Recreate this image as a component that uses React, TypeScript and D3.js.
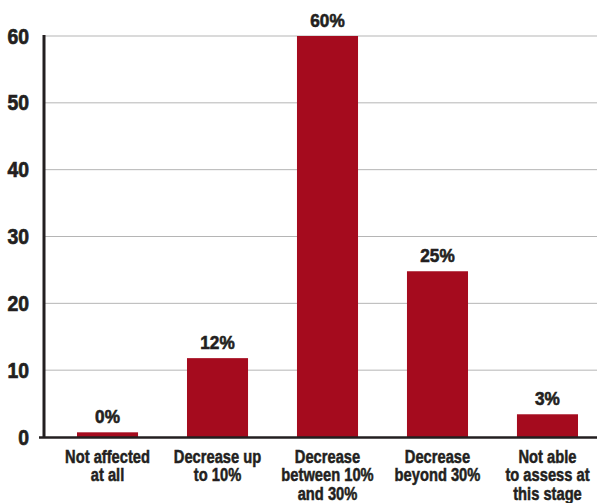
import React, { useEffect, useRef } from "react";
import * as d3 from "d3";

const categories = [
  ["Not affected", "at all"],
  ["Decrease up", "to 10%"],
  ["Decrease", "between 10%", "and 30%"],
  ["Decrease", "beyond 30%"],
  ["Not able", "to assess at", "this stage"],
];
const values = [0.7, 11.8, 60, 24.8, 3.4];
const valueLabels = ["0%", "12%", "60%", "25%", "3%"];
const yTicks = [0, 10, 20, 30, 40, 50, 60];

const FONT = "'Liberation Sans', Arial, sans-serif";
const INK = "#231f20";

const App: React.FC = () => {
  const ref = useRef<SVGSVGElement | null>(null);

  useEffect(() => {
    if (!ref.current) return;
    document.body.style.margin = "0";
    const svg = d3.select(ref.current);
    svg.selectAll("*").remove();

    const width = 597;
    const left = 44;
    const y0 = 437;

    const x = d3.scaleBand<number>()
      .domain(d3.range(values.length))
      .range([left, 611])
      .paddingInner(0.445)
      .paddingOuter(0.3);

    const y = d3.scaleLinear().domain([0, 60]).range([y0, 36]);
    const cx = (i: number) => x(i)! + x.bandwidth() / 2;

    // gridlines
    svg.append("g")
      .selectAll("line")
      .data(yTicks.filter(t => t > 0))
      .enter()
      .append("line")
      .attr("x1", left)
      .attr("x2", width)
      .attr("y1", d => y(d))
      .attr("y2", d => y(d))
      .attr("stroke", "#b5b5b5")
      .attr("stroke-width", 1);

    // tick labels (condensed by horizontal scale, stroked to look heavier)
    svg.append("g")
      .selectAll("text")
      .data(yTicks)
      .enter()
      .append("text")
      .attr("transform", d => `translate(29,${y(d) + 7.5}) scale(0.9,1)`)
      .attr("text-anchor", "end")
      .attr("font-family", FONT)
      .attr("font-weight", "bold")
      .attr("font-size", 21.5)
      .attr("fill", INK)
      .attr("stroke", INK)
      .attr("stroke-width", 0.7)
      .text(d => d);

    // bars
    svg.append("g")
      .selectAll("rect")
      .data(values)
      .enter()
      .append("rect")
      .attr("x", (_, i) => x(i)!)
      .attr("y", d => y(d))
      .attr("width", x.bandwidth())
      .attr("height", d => y0 - y(d))
      .attr("fill", "#a50b1e");

    // value labels
    svg.append("g")
      .selectAll("text")
      .data(values)
      .enter()
      .append("text")
      .attr("transform", (d, i) => `translate(${cx(i)},${y(d) - 9}) scale(0.93,1)`)
      .attr("text-anchor", "middle")
      .attr("font-family", FONT)
      .attr("font-weight", "bold")
      .attr("font-size", 18.5)
      .attr("fill", INK)
      .attr("stroke", INK)
      .attr("stroke-width", 0.6)
      .text((_, i) => valueLabels[i]);

    // axes
    svg.append("line")
      .attr("x1", left)
      .attr("x2", left)
      .attr("y1", 35)
      .attr("y2", y0 + 1)
      .attr("stroke", INK)
      .attr("stroke-width", 3);

    svg.append("line")
      .attr("x1", 39)
      .attr("x2", width)
      .attr("y1", y0 + 0.5)
      .attr("y2", y0 + 0.5)
      .attr("stroke", INK)
      .attr("stroke-width", 2.5);

    // category labels
    const cat = svg.append("g")
      .selectAll("text")
      .data(categories)
      .enter()
      .append("text")
      .attr("transform", (_, i) => `translate(${cx(i)},463) scale(0.84,1)`)
      .attr("text-anchor", "middle")
      .attr("font-family", FONT)
      .attr("font-weight", "bold")
      .attr("font-size", 17.5)
      .attr("fill", INK)
      .attr("stroke", INK)
      .attr("stroke-width", 0.5);

    cat.selectAll("tspan")
      .data(d => d)
      .enter()
      .append("tspan")
      .attr("x", 0)
      .attr("dy", (_, j) => (j === 0 ? 0 : 18.5))
      .text(d => d);
  }, []);

  return <svg ref={ref} width={597} height={503} style={{ display: "block", background: "#fff" }} />;
};

export default App;
